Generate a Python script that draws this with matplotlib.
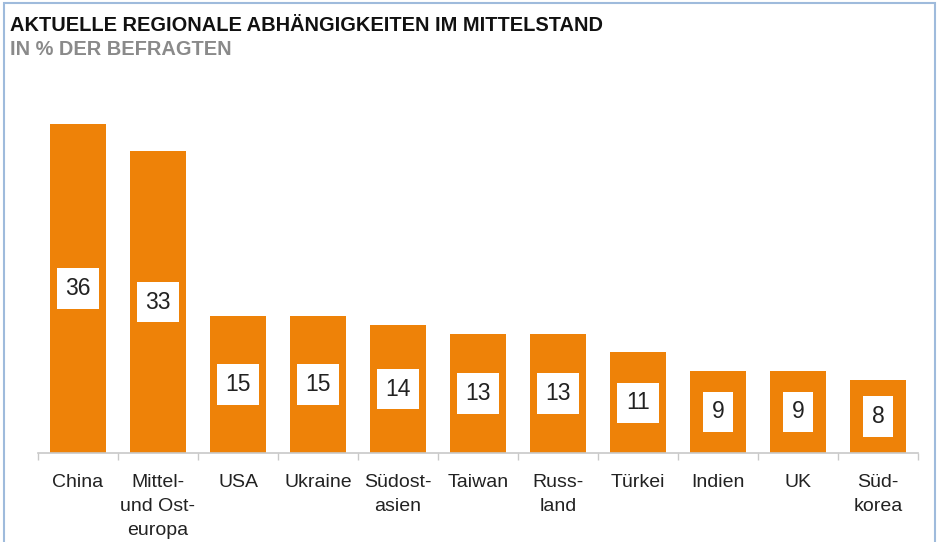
import matplotlib.pyplot as plt
from matplotlib.patches import Rectangle

plt.rcParams['font.family'] = ['Liberation Sans', 'DejaVu Sans']

# data
regions = ['China', 'Mittel-\nund Ost-\neuropa', 'USA', 'Ukraine', 'Südost-\nasien',
           'Taiwan', 'Russ-\nland', 'Türkei', 'Indien', 'UK', 'Süd-\nkorea']
shares = [36, 33, 15, 15, 14, 13, 13, 11, 9, 9, 8]

bar_color = '#EE8208'

fig = plt.figure(figsize=(9.41, 5.42), dpi=100)
ax = fig.add_axes([38 / 941, 89 / 542, 880 / 941, 365.6 / 542])

x = range(len(regions))
ax.bar(x, shares, width=0.7, color=bar_color, zorder=2)

for i, v in enumerate(shares):
    ax.text(i, v / 2, str(v), ha='center', va='center', fontsize=16.5, color='#222222',
            bbox=dict(boxstyle='square,pad=0.38', fc='white', ec='none'), zorder=3)

ax.set_xlim(-0.5, len(regions) - 0.5)
ax.set_ylim(0, 40)

for s in ['top', 'right', 'left']:
    ax.spines[s].set_visible(False)
ax.spines['bottom'].set_color('#c8c8c8')
ax.spines['bottom'].set_linewidth(1.2)

ax.set_yticks([])
ax.set_xticks([i - 0.5 for i in range(len(regions) + 1)], minor=False)
ax.set_xticklabels([])
ax.tick_params(axis='x', which='major', length=5, color='#c8c8c8', width=1)
ax.set_xticks(list(x), minor=True)
ax.set_xticklabels(regions, minor=True, fontsize=14, color='#222222', linespacing=1.55,
                   va='top')
ax.tick_params(axis='x', which='minor', length=0, pad=15)

fig.text(10 / 941, 1 - 31 / 542, 'AKTUELLE REGIONALE ABHÄNGIGKEITEN IM MITTELSTAND',
         fontsize=14.4, fontweight='bold', color='#111111', va='baseline')
fig.text(10 / 941, 1 - 55 / 542, 'IN % DER BEFRAGTEN',
         fontsize=14.4, fontweight='bold', color='#8a8a8a', va='baseline')

# light blue frame around the picture
fig.patches.append(Rectangle((4 / 941, -0.01), 931 / 941, 1 - 3 / 542 + 0.01,
                             transform=fig.transFigure, fill=False,
                             ec='#9fbbdc', lw=1.5))

plt.savefig('out.png', dpi=100)
